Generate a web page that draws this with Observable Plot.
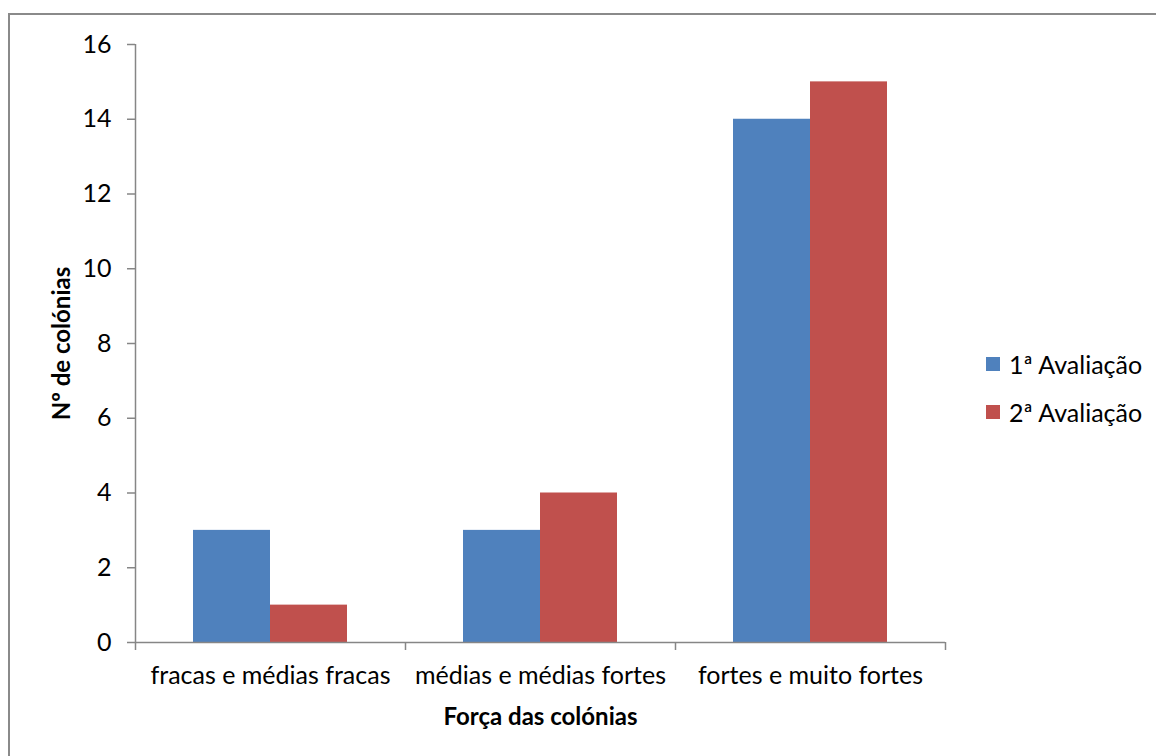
<!DOCTYPE html>
<html>
<head>
<meta charset="utf-8">
<script src="https://cdn.jsdelivr.net/npm/d3@7"></script>
<script src="https://cdn.jsdelivr.net/npm/@observablehq/plot@0.6"></script>
<style>
  html, body { margin: 0; padding: 0; background: #fff; overflow: hidden; }
  #wrap { position: relative; width: 1156px; height: 756px; overflow: hidden; font-family: Lato, "Open Sans", sans-serif; }
  #border { position: absolute; left: 8px; top: 13px; width: 1200px; height: 800px; border: 2px solid #8a8a8a; box-sizing: border-box; }
  #chart { position: absolute; left: 0; top: 0; }
  #legend { position: absolute; left: 986px; top: 340px; font-size: 25px; color: #000; }
  .item { display: flex; align-items: center; height: 48px; }
  .sw { width: 14px; height: 14px; margin-right: 9px; }
</style>
</head>
<body>
<div id="wrap">
  <div id="border"></div>
  <div id="chart"></div>
  <div id="legend"></div>
</div>
<script>
const categories = ["fracas e médias fracas", "médias e médias fortes", "fortes e muito fortes"];
const series = ["1ª Avaliação", "2ª Avaliação"];
const aval1 = [3, 3, 14];
const aval2 = [1, 4, 15];
const colors = ["#4F81BD", "#C0504D"];
const yTicks = [0, 2, 4, 6, 8, 10, 12, 14, 16];
const xTitle = "Força das colónias";
const yTitle = "Nº de colónias";

const data = [];
categories.forEach((c, i) => {
  data.push({cat: c, serie: series[0], value: aval1[i]});
  data.push({cat: c, serie: series[1], value: aval2[i]});
});

const axisColor = "#868686";
const d1 = data.filter(d => d.serie === series[0]);
const d2 = data.filter(d => d.serie === series[1]);

const chart = Plot.plot({
  width: 1156,
  height: 756,
  marginLeft: 135,
  marginRight: 211,
  marginTop: 44,
  marginBottom: 114,
  style: {fontFamily: "Lato, 'Open Sans', sans-serif", fontSize: "25px", color: "#000", background: "transparent"},
  x: {domain: categories, padding: 0, label: null},
  y: {domain: [0, 16], label: null},
  color: {domain: series, range: colors},
  marks: [
    Plot.barY(d1, {x: "cat", y: "value", fill: "serie", insetLeft: 58, insetRight: 135}),
    Plot.barY(d2, {x: "cat", y: "value", fill: "serie", insetLeft: 135, insetRight: 58}),
    Plot.ruleY([0], {stroke: axisColor, strokeWidth: 1.5}),
    Plot.ruleX([categories[0]], {y1: 0, y2: 16, dx: -135, stroke: axisColor, strokeWidth: 1.5}),
    Plot.ruleX(categories, {y1: 0, y2: 0, dx: -135, insetBottom: -8, stroke: axisColor, strokeWidth: 1.5}),
    Plot.ruleX([categories[categories.length - 1]], {y1: 0, y2: 0, dx: 135, insetBottom: -8, stroke: axisColor, strokeWidth: 1.5}),
    Plot.axisY({ticks: yTicks, tickSize: 8, tickPadding: 16, stroke: axisColor, strokeWidth: 1.5, tickFormat: d => d, label: null, fontSize: 25}),
    Plot.axisX({tickSize: 0, tickPadding: 24, label: null, fontSize: 25}),
    Plot.text([yTitle], {frameAnchor: "left", dx: -73, rotate: -90, textAnchor: "middle", fontWeight: "bold", fontSize: 24}),
    Plot.text([xTitle], {frameAnchor: "bottom", dy: 82, fontWeight: "bold", fontSize: 24})
  ]
});
document.getElementById("chart").appendChild(chart);

const legend = document.getElementById("legend");
series.forEach((s, i) => {
  const item = document.createElement("div");
  item.className = "item";
  const sw = document.createElement("div");
  sw.className = "sw";
  sw.style.background = colors[i];
  const t = document.createElement("span");
  t.textContent = s;
  item.appendChild(sw);
  item.appendChild(t);
  legend.appendChild(item);
});
</script>
</body>
</html>
